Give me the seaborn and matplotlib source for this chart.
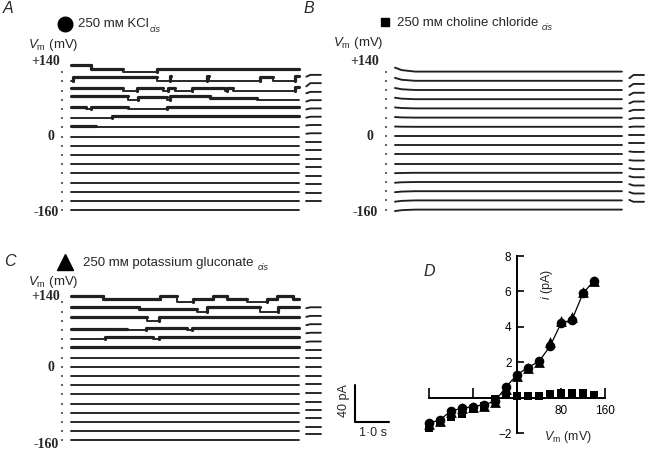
import pandas as pd
import matplotlib
matplotlib.use('Agg')
import matplotlib.pyplot as plt
from matplotlib.lines import Line2D
import seaborn as sns

sns.set_theme(style='white')
plt.rcParams['font.family'] = ['Liberation Sans', 'DejaVu Sans']
plt.rcParams['mathtext.fontset'] = 'custom'
plt.rcParams['mathtext.it'] = 'Liberation Sans:italic'
plt.rcParams['mathtext.rm'] = 'Liberation Sans'

W, H = 648, 455

# holding potentials of the traces (mV), top to bottom
volts = [140, 120, 100, 80, 60, 40, 20, 0, -20, -40, -60, -80, -100, -120, -140, -160]
trace_len = 6.7   # s
PA_TO_MV = 2.0    # vertical display scale of the current traces

# A: 250 mM KCl cis - open periods (start s, end s, channels) and unit current (pA)
A_amp = [3.6, 4.3, 3.0, 3.5, 2.2, 1.8, 1.2, 0, 0, 0, 0, 0, 0, 0, 0, 0]
A_open = {
    140: [(0, 0.6, 2), (0.6, 1.53, 1), (2.53, 6.7, 1)],
    120: [(0.06, 2.53, 1), (2.9, 2.95, 1.3), (4.0, 4.05, 1.3), (5.56, 5.94, 1), (6.6, 6.7, 1.3)],
    100: [(0, 1.53, 1), (1.94, 2.71, 1), (2.85, 3.05, 1), (3.56, 4.53, 1), (4.6, 4.76, 1), (6.6, 6.7, 1.4)],
    80: [(0, 1.68, 1), (1.97, 2.82, 0.7), (2.91, 4.09, 1), (4.09, 5.47, 0.6)],
    60: [(0, 0.44, 1), (0.6, 1.68, 1), (2.82, 6.7, 1)],
    40: [(1.2, 6.7, 1)],
    20: [(0, 0.75, 1)],
}
A_tail = [-3, -2, -1.5, -0.5, 0.5, 1.5, 2.5, 3.5, 4.5, 5.2, 5.8, 6.6, 7.4, 8.2, 8.9, 9.6]
A_hook = [-2, -3.5, -1.5, -1.5, -1, -1, -0.5, -0.5, 0, 0, 0, 0, 0, 0, 0, 0]

# B: 250 mM choline chloride cis - no openings, only the onset transient
B_start = [4.3, 3.2, 2.2, 1.6, 1.1, 0.6, 0.3, 0, 0, 0, 0, -0.4, -0.8, -1.1, -1.4, -1.6]
B_mid = [1.6, 1.1, 0.8, 0.6, 0.4, 0.2, 0.1, 0, 0, 0, 0, -0.2, -0.3, -0.4, -0.5, -0.6]
B_tail = [-3.7, -3.4, -3, -2.5, -1.6, -0.6, 0.2, 1.1, 2, 2.7, 3.3, 4, 5.2, 6.2, 7.5, 8.5]
B_hook = [-3.5, -3, -2.5, -2, -1.5, -1, -0.5, 0, 0, 0.5, 0.5, 1, 1, 1.5, 1.5, 2]

# C: 250 mM potassium gluconate cis
C_amp = [3.3, 4.5, 3.5, 2.5, 2.0, 1.0, 0, 0, 0, 0, 0, 0, 0, 0, 0, 0]
C_open = {
    140: [(0, 0.95, 2), (0.95, 2.62, 1), (2.62, 3.11, 2), (3.6, 4.19, 1), (4.19, 4.58, 2),
          (4.58, 5.17, 1), (5.76, 6.05, 1), (6.05, 6.54, 2), (6.54, 6.7, 1)],
    120: [(0, 2.0, 1), (2.0, 3.7, 0.6), (4.0, 5.55, 1), (6.1, 6.7, 1)],
    100: [(0, 2.25, 1), (2.6, 6.7, 1)],
    80: [(0, 1.64, 0.5), (2.22, 3.4, 1), (3.56, 6.7, 1)],
    60: [(1.0, 2.4, 1), (2.6, 6.7, 1)],
    40: [(0, 6.7, 1)],
}
C_tail = [-5.4, -4.8, -3.8, -3.1, -2.6, -1.8, -0.8, -0.1, 0.4, 0.9, 1.4, 2.1, 2.9, 3.9, 4.9, 6.5]
C_hook = [-1, -1, -1, -0.5, -0.5, 0, 0, 0, 0, 0, 0, 0, 0, 0, 0, 0]

# D: single-channel i-V relation
iv_volts = [-160, -140, -120, -100, -80, -60, -40, -20, 0, 20, 40, 60, 80, 100, 120, 140]
kcl_i = [-1.45, -1.25, -0.75, -0.6, -0.5, -0.4, -0.2, 0.6, 1.3, 1.7, 2.05, 2.9, 4.2, 4.4, 5.9, 6.6]
gluc_i = [-1.5, -1.3, -0.8, -0.6, -0.5, -0.45, -0.25, 0.5, 1.2, 1.65, 2.0, 3.15, 4.35, 4.55, 5.95, 6.6]
chol_i = [-1.7, -1.35, -1.1, -0.9, -0.65, -0.45, -0.1, 0.15, 0.1, 0.1, 0.1, 0.2, 0.25, 0.25, 0.25, 0.15]


def rect(l, t, r, b):
    return [l / W, 1 - b / H, (r - l) / W, (b - t) / H]


def fx(px):
    return px / W


def fy(py):
    return 1 - py / H


def trace_frame(opens, amps, tails, hooks, start=None, mid=None):
    rows = []
    seg = 0
    for k, v in enumerate(volts):
        pieces = []
        t = 0.0
        for t0, t1, n in sorted(opens.get(v, [])):
            if t0 > t:
                pieces.append((t, t0, 0))
            pieces.append((t0, t1, n))
            t = t1
        if t < trace_len:
            pieces.append((t, trace_len, 0))
        prev = None
        for t0, t1, n in pieces:
            y = v + PA_TO_MV * amps[k] * n
            kind = 'open' if n > 0 else 'closed'
            if prev is not None:
                rows.append((t0, prev, seg, kind))
            if start is not None and t0 == 0:
                rows.append((0.0, v + PA_TO_MV * start[k], seg, kind))
                rows.append((0.2, v + PA_TO_MV * mid[k], seg, kind))
                rows.append((0.6, y, seg, kind))
            else:
                rows.append((t0, y, seg, kind))
            rows.append((t1, y, seg, kind))
            prev = y
            seg += 1
        base = v + PA_TO_MV * tails[k]
        rows.append((6.92, base + PA_TO_MV * hooks[k], seg, 'closed'))
        rows.append((7.04, base, seg, 'closed'))
        rows.append((7.35, base, seg, 'closed'))
        seg += 1
    return pd.DataFrame(rows, columns=['t', 'y', 'seg', 'kind'])


def trace_panel(box, df):
    ax = fig.add_axes(box)
    sns.lineplot(data=df, x='t', y='y', units='seg', estimator=None, sort=False,
                 size='kind', sizes={'open': 2.3, 'closed': 1.35}, color='#202020',
                 legend=False, ax=ax)
    ax.set_xlim(-0.235, 7.47)
    ax.set_ylim(-175, 160)
    ax.set_xticks([])
    ax.set_yticks(volts)
    ax.set_yticklabels([])
    ax.tick_params(axis='y', direction='out', length=1.5, width=1.3, colors='#555555', left=True)
    ax.set_xlabel('')
    ax.set_ylabel('')
    for s in ax.spines.values():
        s.set_visible(False)
    ax.patch.set_alpha(0)
    return ax


fig = plt.figure(figsize=(W / 100, H / 100), dpi=100)
renderer = fig.canvas.get_renderer()

trace_panel(rect(63, 62.9, 325, 217.0), trace_frame(A_open, A_amp, A_tail, A_hook))
trace_panel(rect(387, 62.4, 648, 216.5),
            trace_frame({}, [0] * 16, B_tail, B_hook, start=B_start, mid=B_mid))
trace_panel(rect(63, 293.1, 325, 447.2), trace_frame(C_open, C_amp, C_tail, C_hook))

serif = dict(family='Liberation Serif', weight='bold', fontsize=10, ha='right', va='center')
for x0, y_top, y_zero, y_bot in [(60, 61.5, 137, 213), (379, 61.5, 137, 213), (60, 297, 367.5, 444)]:
    fig.text(fx(x0), fy(y_top), '+140', **serif)
    fig.text(fx(x0 - 6), fy(y_zero), '0', **serif)
    fig.text(fx(x0 - 1), fy(y_bot), '-160', **serif)

for x0, y0 in [(28, 45), (333, 43), (28, 282)]:
    fig.text(fx(x0), fy(y0), r'$V_\mathrm{m}$ (mV)', fontsize=9.5, va='center', ha='left')

for x0, y0, letter in [(3, 8.5, 'A'), (303, 8.5, 'B'), (4, 262, 'C'), (424, 272, 'D')]:
    fig.text(fx(x0), fy(y0), letter, fontsize=11.5, style='italic', va='center', ha='left')


def header(x0, y0, label, gap):
    t = fig.text(fx(x0), fy(y0), label, fontsize=9.5, va='center', ha='left')
    bb = t.get_window_extent(renderer)
    fig.text(bb.x1 / W + gap / W, fy(y0 + 5), 'cis', fontsize=6.5, style='italic',
             va='center', ha='left')


header(78, 24, '250 mᴍ KCl', 0.5)
header(397, 23, '250 mᴍ choline chloride', 3)
header(83, 263, '250 mᴍ potassium gluconate', 4)
fig.add_artist(Line2D([fx(64.5)], [fy(24)], marker='o', markersize=10.5, color='black',
                      linestyle='none', transform=fig.transFigure))
fig.add_artist(Line2D([fx(384.5)], [fy(22)], marker='s', markersize=5.6, color='black',
                      linestyle='none', transform=fig.transFigure))
fig.add_artist(Line2D([fx(64.5)], [fy(262)], marker='^', markersize=11, color='black',
                      linestyle='none', transform=fig.transFigure))

# scale bar: 40 pA, 1.0 s
sb = fig.add_axes(rect(330, 375, 410, 445))
sns.lineplot(x=[0, 0, 1], y=[40, 0, 0], sort=False, estimator=None, color='black',
             linewidth=1.5, ax=sb)
sb.set_xlim(-0.735, 1.618)
sb.set_ylim(-24.9, 50.8)
sb.text(-0.32, 23, '40 pA', rotation=90, fontsize=9, ha='center', va='center')
sb.text(0.53, -11.9, '1·0 s', fontsize=9, ha='center', va='center')
sb.axis('off')

# D: i-V plot
ax = fig.add_axes(rect(422.4, 247.2, 611.6, 441.9))
sns.lineplot(x=iv_volts, y=kcl_i, color='black', linewidth=0.9, ax=ax)
sns.scatterplot(x=iv_volts, y=gluc_i, marker='^', s=60, color='black', linewidth=0, ax=ax, zorder=3)
sns.scatterplot(x=iv_volts, y=kcl_i, marker='o', s=48, color='black', linewidth=0, ax=ax, zorder=4)
sns.scatterplot(x=iv_volts, y=chol_i, marker='s', s=36, color='black', linewidth=0, ax=ax, zorder=5)
ax.set_xlim(-172, 172)
ax.set_ylim(-2.5, 8.5)
for side in ['top', 'right']:
    ax.spines[side].set_visible(False)
ax.spines['left'].set_position(('data', 0))
ax.spines['bottom'].set_position(('data', 0))
ax.spines['left'].set_bounds(-2, 8)
ax.spines['bottom'].set_bounds(-160, 160)
for side in ['left', 'bottom']:
    ax.spines[side].set_linewidth(1.4)
    ax.spines[side].set_color('black')
ax.set_xticks([-160, -80, 0, 80, 160])
ax.set_xticklabels(['', '', '', '80', '160'])
ax.set_yticks([-2, 0, 2, 4, 6, 8])
ax.set_yticklabels(['\u22122', '', '2', '4', '6', '8'])
ax.tick_params(axis='x', direction='in', length=7, width=1.2, pad=5, labelsize=8.5,
               colors='black', bottom=True)
ax.tick_params(axis='y', direction='in', length=5, width=1.2, pad=4, labelsize=8.5,
               colors='black', left=True)
ax.patch.set_alpha(0)
ax.text(55, 6.4, '$i$ (pA)', rotation=90, fontsize=9, ha='center', va='center')
ax.text(93, -2.2, r'$V_\mathrm{m}$ (mV)', fontsize=9, ha='center', va='center')

fig.savefig('out.png', dpi=100)
